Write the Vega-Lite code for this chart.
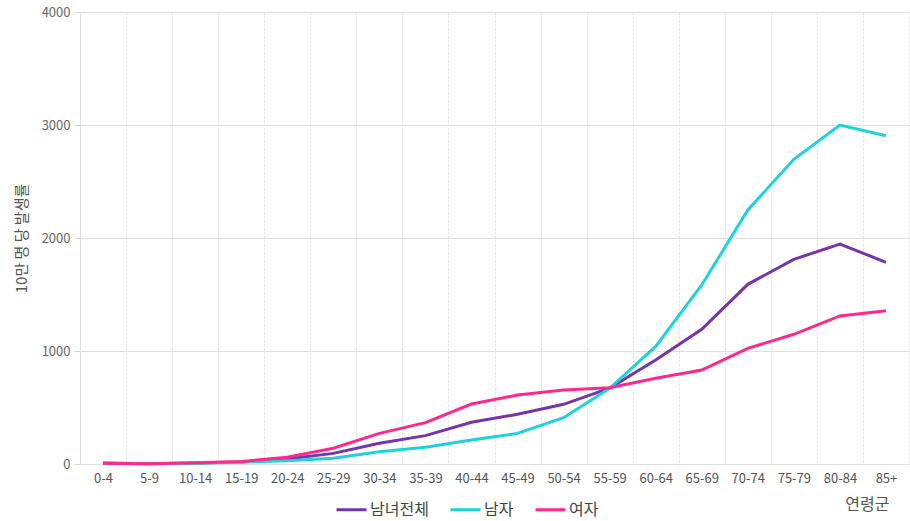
{
  "$schema": "https://vega.github.io/schema/vega-lite/v6.json",
  "autosize": {"type": "none"},
  "padding": {"left": 80, "top": 12, "right": 1, "bottom": 57},
  "width": 829,
  "height": 452,
  "config": {
    "font": "Noto Sans CJK KR",
    "view": {"stroke": null}
  },
  "data": {
    "values": [
      {"age": "0-4", "series": "남녀전체", "rate": 7},
      {"age": "5-9", "series": "남녀전체", "rate": 3},
      {"age": "10-14", "series": "남녀전체", "rate": 8},
      {"age": "15-19", "series": "남녀전체", "rate": 18},
      {"age": "20-24", "series": "남녀전체", "rate": 44},
      {"age": "25-29", "series": "남녀전체", "rate": 94},
      {"age": "30-34", "series": "남녀전체", "rate": 183},
      {"age": "35-39", "series": "남녀전체", "rate": 251},
      {"age": "40-44", "series": "남녀전체", "rate": 369},
      {"age": "45-49", "series": "남녀전체", "rate": 440},
      {"age": "50-54", "series": "남녀전체", "rate": 528},
      {"age": "55-59", "series": "남녀전체", "rate": 672},
      {"age": "60-64", "series": "남녀전체", "rate": 920},
      {"age": "65-69", "series": "남녀전체", "rate": 1192},
      {"age": "70-74", "series": "남녀전체", "rate": 1590},
      {"age": "75-79", "series": "남녀전체", "rate": 1811},
      {"age": "80-84", "series": "남녀전체", "rate": 1947},
      {"age": "85+", "series": "남녀전체", "rate": 1785},
      {"age": "0-4", "series": "남자", "rate": 8},
      {"age": "5-9", "series": "남자", "rate": 3},
      {"age": "10-14", "series": "남자", "rate": 6},
      {"age": "15-19", "series": "남자", "rate": 15},
      {"age": "20-24", "series": "남자", "rate": 29},
      {"age": "25-29", "series": "남자", "rate": 50},
      {"age": "30-34", "series": "남자", "rate": 109},
      {"age": "35-39", "series": "남자", "rate": 148},
      {"age": "40-44", "series": "남자", "rate": 212},
      {"age": "45-49", "series": "남자", "rate": 271},
      {"age": "50-54", "series": "남자", "rate": 410},
      {"age": "55-59", "series": "남자", "rate": 670},
      {"age": "60-64", "series": "남자", "rate": 1040},
      {"age": "65-69", "series": "남자", "rate": 1584},
      {"age": "70-74", "series": "남자", "rate": 2248},
      {"age": "75-79", "series": "남자", "rate": 2696},
      {"age": "80-84", "series": "남자", "rate": 3000},
      {"age": "85+", "series": "남자", "rate": 2905},
      {"age": "0-4", "series": "여자", "rate": 6},
      {"age": "5-9", "series": "여자", "rate": 3},
      {"age": "10-14", "series": "여자", "rate": 10},
      {"age": "15-19", "series": "여자", "rate": 22},
      {"age": "20-24", "series": "여자", "rate": 59},
      {"age": "25-29", "series": "여자", "rate": 139},
      {"age": "30-34", "series": "여자", "rate": 271},
      {"age": "35-39", "series": "여자", "rate": 366},
      {"age": "40-44", "series": "여자", "rate": 531},
      {"age": "45-49", "series": "여자", "rate": 610},
      {"age": "50-54", "series": "여자", "rate": 655},
      {"age": "55-59", "series": "여자", "rate": 674},
      {"age": "60-64", "series": "여자", "rate": 758},
      {"age": "65-69", "series": "여자", "rate": 832},
      {"age": "70-74", "series": "여자", "rate": 1024},
      {"age": "75-79", "series": "여자", "rate": 1148},
      {"age": "80-84", "series": "여자", "rate": 1310},
      {"age": "85+", "series": "여자", "rate": 1357}
    ]
  },
  "mark": {"type": "line", "strokeWidth": 3, "interpolate": "linear"},
  "encoding": {
    "x": {
      "field": "age",
      "type": "ordinal",
      "sort": null,
      "bandPosition": 0.5,
      "scale": {"type": "band", "paddingInner": 0, "paddingOuter": 0},
      "axis": {
        "title": "연령군",
        "titleFont": "Noto Sans CJK KR",
        "titleFontSize": 16,
        "titleFontWeight": "normal",
        "titleColor": "#555555",
        "titleAnchor": "end",
        "titleAlign": "right",
        "titleBaseline": "alphabetic",
        "titleX": 809,
        "titleY": 45,
        "labelAngle": 0,
        "labelFontSize": 13,
        "labelColor": "#555555",
        "labelPadding": 8,
        "tickBand": "extent",
        "ticks": false,
        "domain": false,
        "grid": true,
        "gridColor": "#dedede",
        "gridDash": [2, 2],
        "gridWidth": 1
      }
    },
    "y": {
      "field": "rate",
      "type": "quantitative",
      "scale": {"domain": [0, 4000]},
      "axis": {
        "title": "10만 명 당 발생률",
        "titleFont": "Noto Sans CJK KR",
        "titleFontSize": 15,
        "titleFontWeight": "normal",
        "titleColor": "#555555",
        "titlePadding": 12,
        "values": [0, 1000, 2000, 3000, 4000],
        "format": "d",
        "labelFontSize": 13,
        "labelColor": "#666666",
        "labelPadding": 4,
        "tickSize": 6,
        "tickColor": "#d8d8d8",
        "domainColor": "#e0e0e0",
        "gridColor": "#e0e0e0",
        "gridWidth": 1
      }
    },
    "color": {
      "field": "series",
      "type": "nominal",
      "scale": {
        "domain": ["남녀전체", "남자", "여자"],
        "range": ["#7436a6", "#1ed2d9", "#ff2a8c"]
      },
      "legend": {
        "title": null,
        "orient": "none",
        "direction": "horizontal",
        "legendX": 255,
        "legendY": 481,
        "symbolType": "stroke",
        "symbolStrokeWidth": 3,
        "symbolSize": 900,
        "labelFontSize": 16,
        "labelColor": "#444444",
        "columnPadding": 15,
        "labelOffset": 2
      }
    }
  }
}
